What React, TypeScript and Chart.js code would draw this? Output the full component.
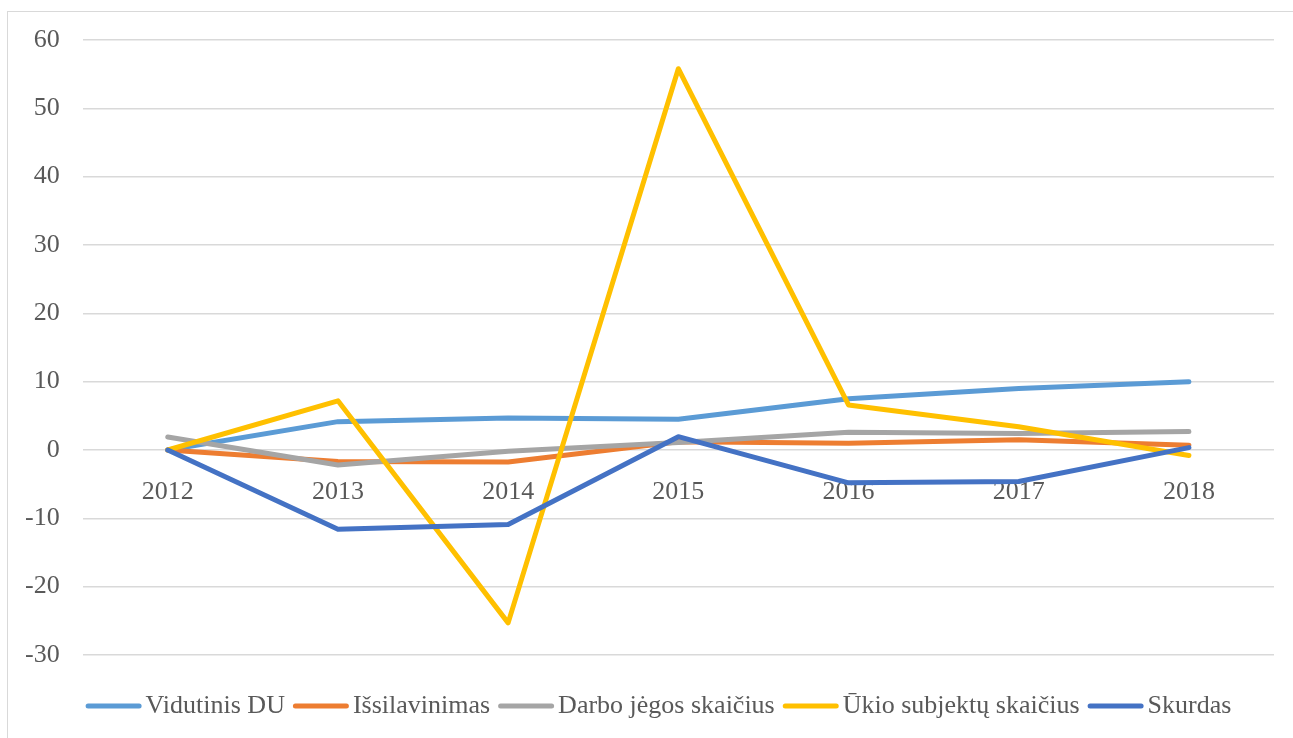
import React, { useEffect, useRef } from "react";
import { Chart, registerables } from "chart.js";

Chart.register(...registerables);

const years = ["2012", "2013", "2014", "2015", "2016", "2017", "2018"];
const vidutinisDU = [0, 4.15, 4.7, 4.5, 7.5, 9.0, 10.0];
const issilavinimas = [0, -1.7, -1.75, 1.2, 1.0, 1.5, 0.7];
const darboJegos = [1.9, -2.2, -0.2, 1.1, 2.6, 2.4, 2.7];
const ukioSubjektu = [0, 7.2, -25.3, 55.8, 6.6, 3.4, -0.8];
const skurdas = [0, -11.6, -10.9, 1.95, -4.8, -4.6, 0.35];

const seriesNames = [
  "Vidutinis DU",
  "Išsilavinimas",
  "Darbo jėgos skaičius",
  "Ūkio subjektų skaičius",
  "Skurdas",
];
const seriesColors = ["#5B9BD5", "#ED7D31", "#A5A5A5", "#FFC000", "#4472C4"];
const seriesValues = [vidutinisDU, issilavinimas, darboJegos, ukioSubjektu, skurdas];

const FONT = "'Liberation Serif', 'Times New Roman', serif";

const bottomLegend = {
  id: "bottomLegend",
  afterDraw(chart: any) {
    const ctx = chart.ctx as CanvasRenderingContext2D;
    const datasets = chart.data.datasets;
    const lineW = 56;
    const gapText = 4;
    const gapItem = 8;
    const y = 706;
    ctx.save();
    ctx.font = `26px ${FONT}`;
    const widths = datasets.map((d: any) => ctx.measureText(d.label).width);
    const total =
      widths.reduce((s: number, w: number) => s + w + lineW + gapText, 0) +
      gapItem * (datasets.length - 1);
    let x = 658.5 - total / 2;
    datasets.forEach((d: any, i: number) => {
      ctx.strokeStyle = d.borderColor;
      ctx.lineWidth = 5;
      ctx.lineCap = "round";
      ctx.beginPath();
      ctx.moveTo(x + 2.5, y);
      ctx.lineTo(x + lineW - 2.5, y);
      ctx.stroke();
      ctx.fillStyle = "#595959";
      ctx.textBaseline = "middle";
      ctx.textAlign = "left";
      ctx.fillText(d.label, x + lineW + gapText, y);
      x += lineW + gapText + widths[i] + gapItem;
    });
    ctx.restore();
  },
};

export default function App() {
  const ref = useRef<HTMLCanvasElement | null>(null);

  useEffect(() => {
    if (!ref.current) return;
    const chart = new Chart(ref.current, {
      type: "line",
      data: {
        labels: years,
        datasets: seriesValues.map((vals, i) => ({
          label: seriesNames[i],
          data: vals,
          borderColor: seriesColors[i],
          backgroundColor: seriesColors[i],
          borderWidth: 5,
          borderCapStyle: "round",
          borderJoinStyle: "round",
          pointRadius: 0,
          pointHoverRadius: 0,
          tension: 0,
          fill: false,
          order: seriesValues.length - i,
        })),
      },
      options: {
        responsive: false,
        animation: false,
        layout: { padding: { left: 2, right: 19, top: 40, bottom: 83 } },
        font: { family: FONT, size: 26 },
        plugins: {
          tooltip: { enabled: false },
          legend: { display: false },
        },
        scales: {
          x: {
            type: "category",
            offset: true,
            position: { y: 0 } as any,
            grid: { display: false, drawTicks: false },
            border: { display: false },
            ticks: {
              padding: 27,
              color: "#595959",
              maxRotation: 0,
              font: { family: FONT, size: 26 },
            },
          },
          y: {
            min: -30,
            max: 60,
            grid: { color: "#d9d9d9", lineWidth: 1.5, drawTicks: false },
            border: { display: false },
            ticks: {
              stepSize: 10,
              padding: 23,
              color: "#595959",
              font: { family: FONT, size: 26 },
            },
          },
        },
      },
      plugins: [bottomLegend],
    });
    return () => chart.destroy();
  }, []);

  return (
    <div
      style={{
        position: "fixed",
        left: 0,
        top: 0,
        width: 1293,
        height: 738,
        overflow: "hidden",
        background: "#ffffff",
      }}
    >
      <div
        style={{
          position: "absolute",
          left: 7,
          top: 11,
          width: 1300,
          height: 740,
          border: "1px solid #d9d9d9",
          boxSizing: "border-box",
        }}
      />
      <canvas
        ref={ref}
        width={1293}
        height={738}
        style={{ position: "absolute", left: 0, top: 0, width: 1293, height: 738 }}
      />
    </div>
  );
}
